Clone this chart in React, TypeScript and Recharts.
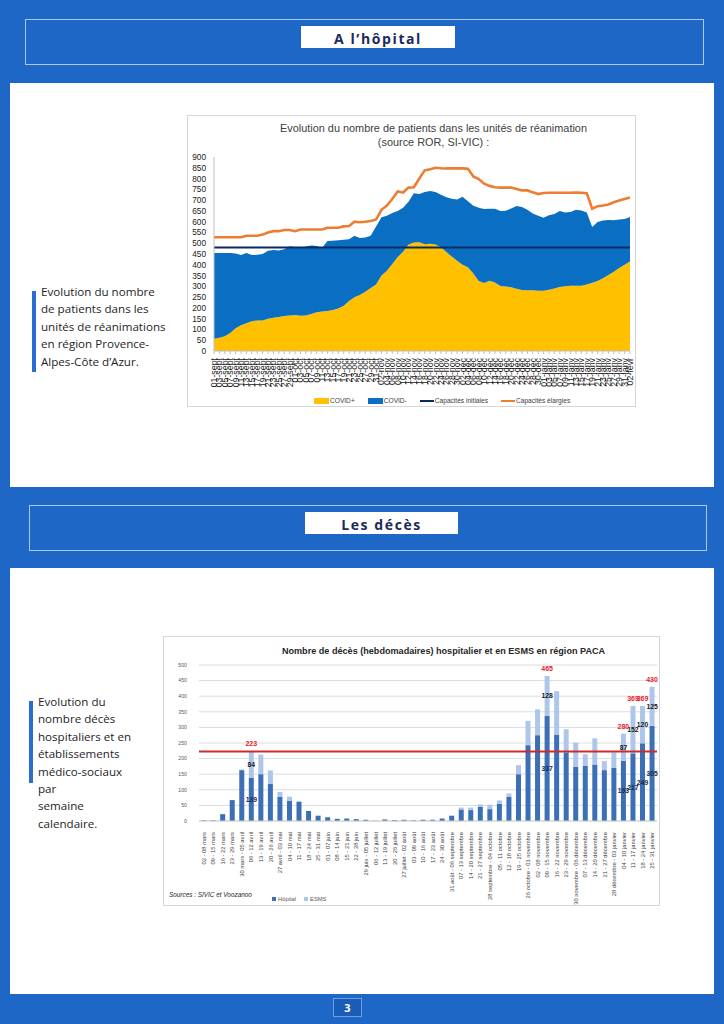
import React from "react";
import {
  ComposedChart,
  Area,
  Line,
  XAxis,
  YAxis,
  BarChart,
  Bar,
  CartesianGrid,
  ReferenceLine,
  LabelList,
} from "recharts";

// --- réanimation, un point tous les deux jours
const DAYS = [
  "01-sept", "03-sept", "05-sept", "07-sept", "09-sept", "11-sept", "13-sept", "15-sept", "17-sept", "19-sept",
  "21-sept", "23-sept", "25-sept", "27-sept", "29-sept",
  "01-oct", "03-oct", "05-oct", "07-oct", "09-oct", "11-oct", "13-oct", "15-oct", "17-oct", "19-oct",
  "21-oct", "23-oct", "25-oct", "27-oct", "29-oct", "31-oct",
  "02-nov", "04-nov", "06-nov", "08-nov", "10-nov", "12-nov", "14-nov", "16-nov", "18-nov", "20-nov",
  "22-nov", "24-nov", "26-nov", "28-nov", "30-nov",
  "02-déc", "04-déc", "06-déc", "08-déc", "10-déc", "12-déc", "14-déc", "16-déc", "18-déc", "20-déc",
  "22-déc", "24-déc", "26-déc", "28-déc", "30-déc",
  "01-janv", "03-janv", "05-janv", "07-janv", "09-janv", "11-janv", "13-janv", "15-janv", "17-janv", "19-janv",
  "21-janv", "23-janv", "25-janv", "27-janv", "29-janv", "31-janv",
  "02-févr",
];

const COVID_PLUS = [
  57, 62, 68, 84, 105, 119, 129, 138, 142, 141,
  150, 154, 158, 162, 165, 167, 163, 165, 172, 180,
  183, 185, 190, 197, 210, 232, 249, 260, 275, 292,
  309, 350, 372, 404, 436, 460, 494, 503, 505, 495,
  497, 494, 481, 459, 438, 419, 400, 389, 360, 325,
  316, 326, 318, 302, 299, 296, 289, 283, 282, 282,
  280, 279, 284, 290, 297, 300, 303, 303, 303, 308,
  317, 325, 338, 352, 368, 385, 400, 415,
];

const COVID_MINUS = [
  398, 393, 387, 371, 347, 326, 326, 307, 304, 309,
  315, 314, 308, 310, 321, 316, 316, 320, 318, 307,
  295, 325, 322, 317, 306, 286, 286, 264, 252, 243,
  269, 270, 256, 236, 214, 205, 198, 229, 223, 243,
  245, 244, 244, 254, 268, 284, 316, 306, 314, 339,
  343, 334, 342, 348, 352, 365, 384, 385, 373, 356,
  348, 339, 346, 346, 353, 342, 342, 352, 349, 334,
  258, 273, 267, 256, 238, 225, 212, 207,
];

const CAP_ELARGIES = [
  528, 528, 528, 528, 528, 528, 535, 535, 535, 540,
  550, 556, 556, 561, 561, 556, 564, 564, 564, 564,
  564, 572, 572, 572, 578, 580, 600, 597, 600, 603,
  610, 655, 675, 705, 740, 735, 758, 760, 800, 838,
  843, 850, 848, 847, 847, 847, 847, 845, 810, 798,
  776, 766, 760, 758, 758, 758, 752, 745, 745, 736,
  728, 733, 734, 734, 734, 734, 734, 735, 734, 732,
  660, 672, 675, 680, 690, 698, 705, 712,
];

const CAP_INITIALES = 480;
const Y1_TICKS = [0, 50, 100, 150, 200, 250, 300, 350, 400, 450, 500, 550, 600, 650, 700, 750, 800, 850, 900];

// --- décès hebdomadaires
const WEEKS = [
  "02 - 08 mars", "09 - 15 mars", "16 - 22 mars", "23 - 29 mars", "30 mars - 05 avril",
  "06 - 12 avril", "13 - 19 avril", "20 - 26 avril", "27 avril - 03 mai", "04 - 10 mai",
  "11 - 17 mai", "18 - 24 mai", "25 - 31 mai", "01 - 07 juin", "08 - 14 juin",
  "15 - 21 juin", "22 - 28 juin", "29 juin - 05 juillet", "06 - 12 juillet", "13 - 19 juillet",
  "20 - 26 juillet", "27 juillet - 02 août", "03 - 09 août", "10 - 16 août", "17 - 23 août",
  "24 - 30 août", "31 août - 06 septembre", "07 - 13 septembre", "14 - 20 septembre", "21 - 27 septembre",
  "28 septembre - 04 octobre", "05 - 11 octobre", "12 - 18 octobre", "19 - 25 octobre", "26 octobre - 01 novembre",
  "02 - 08 novembre", "09 - 15 novembre", "16 - 22 novembre", "23 - 29 novembre", "30 novembre - 06 décembre",
  "07 - 13 décembre", "14 - 20 décembre", "21 - 27 décembre", "28 décembre - 03 janvier", "04 - 10 janvier",
  "11 - 17 janvier", "18 - 24 janvier", "25 - 31 janvier",
];

const HOPITAL = [
  2, 2, 22, 67, 163, 139, 150, 119, 77, 64,
  62, 32, 17, 12, 7, 8, 6, 4, 1, 5,
  3, 4, 2, 4, 4, 8, 17, 37, 35, 45,
  38, 55, 78, 150, 243, 275, 337, 277, 220, 174,
  177, 181, 163, 170, 193, 217, 249, 305,
];

const ESMS = [
  0, 0, 0, 0, 2, 84, 63, 43, 16, 14,
  0, 0, 0, 0, 0, 0, 0, 0, 0, 0,
  0, 0, 0, 0, 0, 0, 0, 6, 8, 8,
  14, 11, 10, 29, 78, 83, 128, 139, 74, 77,
  37, 84, 29, 50, 87, 152, 120, 125,
];

const LABELLED_WEEKS = [5, 36, 44, 45, 46, 47];
const SEUIL = 223;
const Y2_TICKS = [0, 50, 100, 150, 200, 250, 300, 350, 400, 450, 500];

const BLUE_PAGE = "#1f67c7";
const NAVY = "#1b2a5c";

const reaRows = DAYS.map((d, i) => ({
  day: d,
  plus: COVID_PLUS[i],
  minus: COVID_MINUS[i],
  init: CAP_INITIALES,
  elarg: CAP_ELARGIES[i],
}));

const decesRows = WEEKS.map((w, i) => {
  const lab = LABELLED_WEEKS.includes(i);
  return {
    week: w,
    hop: HOPITAL[i],
    esms: ESMS[i],
    hopLab: lab ? HOPITAL[i] : null,
    esmsLab: lab ? ESMS[i] : null,
    totLab: lab ? HOPITAL[i] + ESMS[i] : null,
  };
});

const DayTick = (props: any) => {
  const { x, y, payload } = props;
  return (
    <text
      transform={`translate(${x},${y + 2}) rotate(-90)`}
      textAnchor="end"
      dominantBaseline="central"
      fontSize={8.8}
      fill="#1a1a1a"
      fontFamily="Liberation Sans"
    >
      {payload.value}
    </text>
  );
};

const WeekTick = (props: any) => {
  const { x, y, payload } = props;
  return (
    <text
      transform={`translate(${x},${y + 3}) rotate(-90)`}
      textAnchor="end"
      dominantBaseline="central"
      fontSize={5.8}
      fill="#404040"
      fontFamily="Liberation Sans"
    >
      {payload.value}
    </text>
  );
};

const centerLabel = (color: string) => (props: any) => {
  const { x, y, width, height, value } = props;
  if (value === null || value === undefined) return null;
  return (
    <text
      x={Number(x) + Number(width) / 2}
      y={Number(y) + Number(height) / 2}
      textAnchor="middle"
      dominantBaseline="central"
      fontSize={6.8}
      fontWeight={700}
      fill={color}
      fontFamily="Liberation Sans"
    >
      {value}
    </text>
  );
};

const topLabel = (props: any) => {
  const { x, y, width, value } = props;
  if (value === null || value === undefined) return null;
  return (
    <text
      x={Number(x) + Number(width) / 2}
      y={Number(y) - 5}
      textAnchor="middle"
      fontSize={7}
      fontWeight={700}
      fill="#e3212a"
      fontFamily="Liberation Sans"
    >
      {value}
    </text>
  );
};

function SectionHeader({ top, left, width, label, labelLeft, labelWidth }: any) {
  return (
    <>
      <div
        style={{
          position: "absolute",
          left,
          top,
          width,
          height: 46,
          border: "1.5px solid #a9c9f2",
          boxSizing: "border-box",
        }}
      />
      <div
        style={{
          position: "absolute",
          left: labelLeft,
          top: top + 7,
          width: labelWidth,
          height: 22,
          background: "#fff",
          color: NAVY,
          fontFamily: "Open Sans",
          fontWeight: 700,
          fontSize: 14,
          letterSpacing: 1.6,
          textAlign: "center",
          lineHeight: "26px",
        }}
      >
        {label}
      </div>
    </>
  );
}

function SideText({ left, top, lines, barHeight }: any) {
  return (
    <>
      <div style={{ position: "absolute", left, top: top + 2, width: 4, height: barHeight, background: "#2a6fd0" }} />
      <div
        style={{
          position: "absolute",
          left: left + 9,
          top: top - 6,
          fontFamily: "Open Sans",
          fontSize: 11.6,
          lineHeight: "17.4px",
          color: "#1e1e1e",
          whiteSpace: "nowrap",
        }}
      >
        {lines.map((l: string) => (
          <div key={l}>{l}</div>
        ))}
      </div>
    </>
  );
}

function LegendSwatch({ color, line }: { color: string; line?: boolean }) {
  return line ? (
    <span style={{ display: "inline-block", width: 14, height: 2, background: color, verticalAlign: "middle", marginRight: 1 }} />
  ) : (
    <span style={{ display: "inline-block", width: 15, height: 6, background: color, verticalAlign: "middle", marginRight: 1 }} />
  );
}

function ReaChart() {
  return (
    <div
      style={{
        position: "absolute",
        left: 187,
        top: 115,
        width: 449,
        height: 292,
        border: "1px solid #d6d6d6",
        boxSizing: "border-box",
        background: "#fff",
      }}
    >
      <div
        style={{
          position: "absolute",
          left: 0,
          right: 0,
          top: 5,
          textAlign: "center",
          fontFamily: "Liberation Sans",
          fontSize: 10.9,
          lineHeight: "14px",
          color: "#404040",
          paddingLeft: 44,
          whiteSpace: "nowrap",
        }}
      >
        <div>Evolution du nombre de patients dans les unités de réanimation</div>
        <div>(source ROR, SI-VIC) :</div>
      </div>
      <div style={{ position: "absolute", left: 0, top: 0 }}>
        <ComposedChart width={447} height={290} data={reaRows} margin={{ top: 41, right: 5, bottom: 15, left: 0 }}>
          <XAxis
            dataKey="day"
            interval={0}
            height={40}
            tick={<DayTick />}
            tickLine={{ stroke: "#bfbfbf" }}
            tickSize={3}
            axisLine={{ stroke: "#bfbfbf" }}
          />
          <YAxis
            width={26}
            domain={[0, 900]}
            ticks={Y1_TICKS}
            interval={0}
            tick={{ fontSize: 8.3, fill: "#1a1a1a", fontFamily: "Liberation Sans" }}
            tickLine={false}
            axisLine={{ stroke: "#bfbfbf" }}
            tickMargin={2}
          />
          <Area
            type="linear"
            dataKey="plus"
            stackId="rea"
            fill="#ffc000"
            fillOpacity={1}
            stroke="none"
            isAnimationActive={false}
          />
          <Area
            type="linear"
            dataKey="minus"
            stackId="rea"
            fill="#0a6fc2"
            fillOpacity={1}
            stroke="none"
            isAnimationActive={false}
          />
          <Line type="linear" dataKey="init" stroke="#0b2a63" strokeWidth={2} dot={false} isAnimationActive={false} />
          <Line type="linear" dataKey="elarg" stroke="#ed7d31" strokeWidth={2.6} dot={false} isAnimationActive={false} />
        </ComposedChart>
      </div>
      <div
        style={{
          position: "absolute",
          left: 126,
          top: 281,
          fontFamily: "Liberation Sans",
          fontSize: 6.6,
          color: "#404040",
          whiteSpace: "nowrap",
          display: "flex",
          gap: 13,
        }}
      >
        <span><LegendSwatch color="#ffc000" />COVID+</span>
        <span><LegendSwatch color="#0a6fc2" />COVID-</span>
        <span><LegendSwatch color="#0b2a63" line />Capacités initiales</span>
        <span><LegendSwatch color="#ed7d31" line />Capacités élargies</span>
      </div>
    </div>
  );
}

function DecesChart() {
  return (
    <div
      style={{
        position: "absolute",
        left: 163,
        top: 636,
        width: 497,
        height: 270,
        border: "1px solid #d6d6d6",
        boxSizing: "border-box",
        background: "#fff",
      }}
    >
      <div
        style={{
          position: "absolute",
          left: 0,
          right: 0,
          top: 9,
          textAlign: "center",
          fontFamily: "Liberation Sans",
          fontWeight: 700,
          fontSize: 9.1,
          color: "#262626",
          paddingLeft: 64,
          boxSizing: "border-box",
          whiteSpace: "nowrap",
        }}
      >
        Nombre de décès (hebdomadaires) hospitalier et en ESMS en région PACA
      </div>
      <div style={{ position: "absolute", left: 0, top: 0 }}>
        <BarChart
          width={495}
          height={268}
          data={decesRows}
          margin={{ top: 28, right: 2, bottom: 5, left: 0 }}
          barCategoryGap="22%"
        >
          <CartesianGrid vertical={false} stroke="#dcdcdc" />
          <XAxis
            dataKey="week"
            interval={0}
            height={79}
            tick={<WeekTick />}
            tickLine={false}
            axisLine={{ stroke: "#d0d0d0" }}
          />
          <YAxis
            width={35}
            domain={[0, 500]}
            ticks={Y2_TICKS}
            interval={0}
            tick={{ fontSize: 5.2, fill: "#595959", fontFamily: "Liberation Sans" }}
            tickLine={false}
            axisLine={false}
            tickMargin={6}
          />
          <Bar dataKey="hop" stackId="d" fill="#3b6fb6" isAnimationActive={false}>
            <LabelList dataKey="hopLab" content={centerLabel("#1b2a4a")} />
          </Bar>
          <Bar dataKey="esms" stackId="d" fill="#adc6e9" isAnimationActive={false}>
            <LabelList dataKey="esmsLab" content={centerLabel("#1a1a1a")} />
            <LabelList dataKey="totLab" content={topLabel} />
          </Bar>
          <ReferenceLine y={SEUIL} stroke="#cf2a2a" strokeWidth={2} ifOverflow="extendDomain" />
        </BarChart>
      </div>
      <div
        style={{
          position: "absolute",
          left: 5,
          top: 254,
          fontFamily: "Liberation Sans",
          fontStyle: "italic",
          fontSize: 6.4,
          color: "#262626",
          whiteSpace: "nowrap",
        }}
      >
        Sources : SIVIC et Voozanoo
      </div>
      <div
        style={{
          position: "absolute",
          left: 108,
          top: 259,
          fontFamily: "Liberation Sans",
          fontSize: 5.8,
          color: "#595959",
          whiteSpace: "nowrap",
          display: "flex",
          gap: 8,
          alignItems: "center",
        }}
      >
        <span>
          <span style={{ display: "inline-block", width: 4, height: 4, background: "#3b6fb6", marginRight: 2 }} />
          Hôpital
        </span>
        <span>
          <span style={{ display: "inline-block", width: 4, height: 4, background: "#adc6e9", marginRight: 2 }} />
          ESMS
        </span>
      </div>
    </div>
  );
}

export default function App() {
  return (
    <div
      style={{
        position: "absolute",
        left: 0,
        top: 0,
        width: 724,
        height: 1024,
        background: BLUE_PAGE,
        overflow: "hidden",
      }}
    >
      <SectionHeader top={19} left={25} width={679} label="A l’hôpital" labelLeft={301} labelWidth={154} />
      <div style={{ position: "absolute", left: 10, top: 83, width: 704, height: 404, background: "#fff" }} />
      <SideText
        left={32}
        top={289}
        barHeight={81}
        lines={[
          "Evolution du nombre",
          "de patients dans les",
          "unités de réanimations",
          "en région Provence-",
          "Alpes-Côte d’Azur.",
        ]}
      />
      <ReaChart />

      <SectionHeader top={505} left={29} width={678} label="Les décès" labelLeft={305} labelWidth={153} />
      <div style={{ position: "absolute", left: 10, top: 568, width: 704, height: 426, background: "#fff" }} />
      <SideText
        left={29}
        top={699}
        barHeight={82}
        lines={[
          "Evolution du",
          "nombre décès",
          "hospitaliers et en",
          "établissements",
          "médico-sociaux",
          "par",
          "semaine",
          "calendaire.",
        ]}
      />
      <DecesChart />

      <div
        style={{
          position: "absolute",
          left: 333,
          top: 998,
          width: 29,
          height: 19,
          background: "#1a5cb8",
          border: "1px solid #6f9ee0",
          boxSizing: "border-box",
          color: "#fff",
          fontFamily: "Open Sans",
          fontWeight: 700,
          fontSize: 11,
          textAlign: "center",
          lineHeight: "17px",
        }}
      >
        3
      </div>
    </div>
  );
}
